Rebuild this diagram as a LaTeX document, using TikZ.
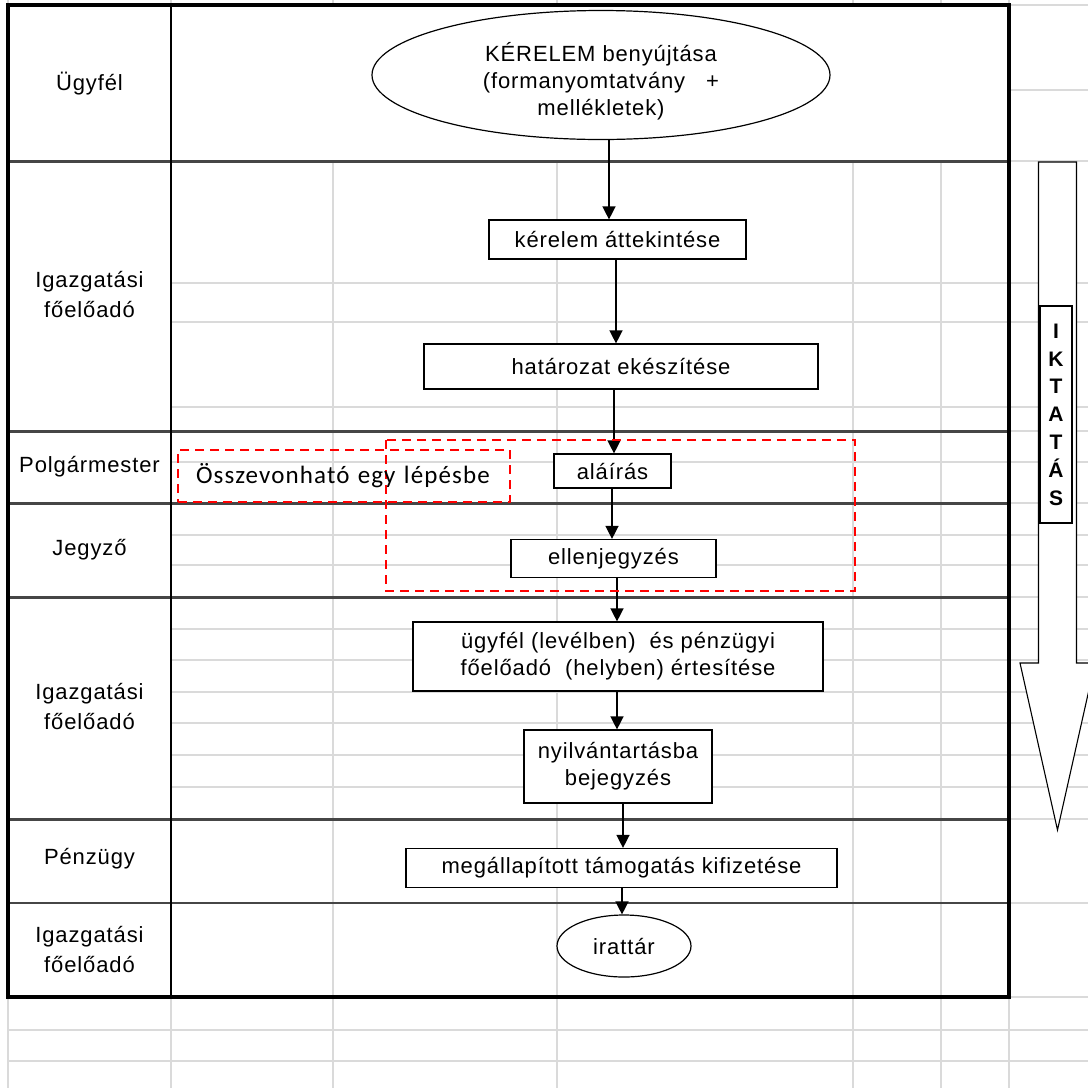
\documentclass[tikz,border=0pt]{standalone}
\usepackage{fontspec}
\setmainfont{Liberation Sans}[LetterSpace=4]
\newfontfamily\calfont{Carlito}[LetterSpace=4.5]
\usetikzlibrary{arrows.meta,shapes.geometric}

\definecolor{gridgray}{RGB}{218,218,218}
\definecolor{lanegray}{RGB}{70,70,70}
\definecolor{dashred}{RGB}{255,0,0}

\begin{document}
\begin{tikzpicture}[x=1pt,y=-1pt,
  gridline/.style={draw=gridgray, line width=1.5pt},
  laneline/.style={draw=lanegray, line width=3pt},
  steptext/.style={font=\fontsize{22}{27}\selectfont, align=center},
  stepbox/.style={steptext, draw, line width=1.2pt, fill=white, inner sep=0pt},
  termnode/.style={ellipse, draw, line width=1.2pt, fill=white, inner sep=0pt},
  flow/.style={line width=1.4pt, -{Triangle[width=13pt,length=13pt]}},
  lanelabel/.style={font=\fontsize{22}{30}\selectfont, align=center, inner sep=0pt},
  reddash/.style={draw=dashred, line width=1.5pt, dash pattern=on 9pt off 6pt},
]
\useasboundingbox (0,0) rectangle (1088,1088);
\clip (0,0) rectangle (1088,1088);
\fill[white] (0,0) rectangle (1088,1088);

% spreadsheet grid
\foreach \x in {8,171,333,557,853,941,1009}
  \draw[gridline] (\x,0) -- (\x,1088);
\foreach \y in {283,322,407,462,535,565,629,660,692,723,755,787}
  \draw[gridline] (171,\y) -- (1088,\y);
\foreach \y in {5,90,161,431,503,597,819,903,997}
  \draw[gridline] (1009,\y) -- (1088,\y);
\foreach \y in {1030,1061}
  \draw[gridline] (8,\y) -- (1088,\y);
% cells without grid
\fill[white] (8,5) rectangle (171,997);
\fill[white] (171,5) rectangle (1009,161);

% swimlane separators and frame
\foreach \y in {161,431,503,597,819}
  \draw[laneline] (8,\y) -- (1009,\y);
\draw[laneline, line width=1.6pt] (8,903) -- (1009,903);
\draw[line width=2.5pt] (171,5) -- (171,997);
\draw[line width=3.5pt] (8,5) rectangle (1009,997);

% lane labels
\node[lanelabel] (l1) at (89.5,84) {Ügyfél};
\node[lanelabel] (l2) at (89.5,295) {Igazgatási\\főelőadó};
\node[lanelabel] (l3) at (89.5,467) {Polgármester};
\node[lanelabel] (l4) at (89.5,550) {Jegyző};
\node[lanelabel] (l5) at (89.5,706) {Igazgatási\\főelőadó};
\node[lanelabel] (l6) at (89.5,859) {Pénzügy};
\node[lanelabel] (l7) at (89.5,949) {Igazgatási\\főelőadó};

% process steps
\node[termnode, minimum width=458pt, minimum height=129pt,
  label={[steptext, yshift=-6pt]center:{KÉRELEM benyújtása\\(formanyomtatvány~~~+\\mellékletek)}}]
  (req) at (601,75) {};
\node[stepbox, minimum width=257pt, minimum height=39pt] (review) at (617.5,239.5)
  {kérelem áttekintése};
\node[stepbox, minimum width=394pt, minimum height=45pt] (decision) at (621,366.5)
  {határozat ekészítése};
\node[stepbox, minimum width=117pt, minimum height=34pt] (sign) at (612.5,471)
  {aláírás};
\node[stepbox, minimum width=205pt, minimum height=38pt] (counter) at (613.5,558.5)
  {ellenjegyzés};
\node[stepbox, minimum width=410pt, minimum height=69pt] (notify) at (618,656.5)
  {ügyfél (levélben)~ és pénzügyi\\főelőadó~ (helyben) értesítése};
\node[stepbox, minimum width=188pt, minimum height=73pt] (register) at (618,766.5)
  {nyilvántartásba\\bejegyzés};
\node[stepbox, minimum width=431pt, minimum height=39pt] (payment) at (621.5,868)
  {megállapított támogatás kifizetése};
\node[termnode, steptext, minimum width=134pt, minimum height=62pt] (archive) at (624,946)
  {irattár};

% connectors
\coordinate (c1) at (609,0);
\coordinate (c2) at (616,0);
\coordinate (c3) at (614,0);
\coordinate (c4) at (612,0);
\coordinate (c5) at (617,0);
\coordinate (c6) at (617,0);
\coordinate (c7) at (623,0);
\coordinate (c8) at (622,0);
\draw[flow] (req.south -| c1) -- (review.north -| c1);
\draw[flow] (review.south -| c2) -- (decision.north -| c2);
\draw[flow] (decision.south -| c3) -- (sign.north -| c3);
\draw[flow] (sign.south -| c4) -- (counter.north -| c4);
\draw[flow] (counter.south -| c5) -- (notify.north -| c5);
\draw[flow] (notify.south -| c6) -- (register.north -| c6);
\draw[flow] (register.south -| c7) -- (payment.north -| c7);
\draw[flow] (payment.south -| c8) -- (archive.north -| c8);

% steps that can be merged
\coordinate (m1) at (386,440);
\coordinate (m2) at (855,591);
\draw[reddash] (m1) rectangle (m2);
\node[reddash, text width=296pt, inner xsep=18pt, inner ysep=0pt,
  minimum height=52pt, align=left, font=\calfont\fontsize{25}{30}\selectfont]
  (hint) at (344,476) {Összevonható egy lépésbe};

% registration arrow
\draw[line width=1.1pt, fill=white]
  (1038.5,162) -- (1076.5,162) -- (1076.5,663) -- (1095,663)
  -- (1057.5,830) -- (1020,663) -- (1038.5,663) -- cycle;
\node[draw, line width=1.1pt, fill=white, minimum width=32pt, minimum height=217pt,
  inner sep=0pt, align=center, font=\bfseries\fontsize{21}{27.8}\selectfont]
  (reg) at (1056,414.5) {I\\K\\T\\A\\T\\Á\\S};
\end{tikzpicture}
\end{document}
